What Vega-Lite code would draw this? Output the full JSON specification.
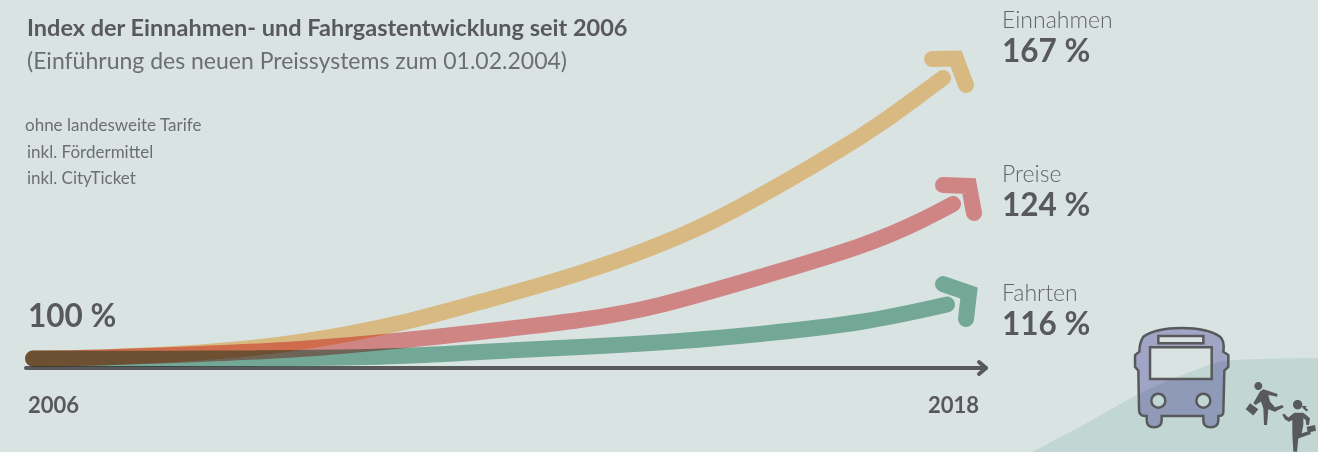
{
"$schema":"https://vega.github.io/schema/vega-lite/v6.json",
"width":1318,"height":452,"padding":0,
"autosize":"none",
"background":"#d9e3e2",
"config":{"view":{"stroke":null},"font":"Lato"},
"datasets":{
"hill":[{"year":2019.066,"index":77.68,"floor":77.68},{"year":2019.755,"index":84.4,"floor":77.68},{"year":2020.431,"index":91.36,"floor":77.68},{"year":2021.081,"index":96.64,"floor":77.68},{"year":2021.679,"index":99.76,"floor":77.68},{"year":2022.784,"index":100.24,"floor":77.68}],
"curves":[
{"series":"Einnahmen","year":2006.079,"index":100.12},{"series":"Einnahmen","year":2006.95,"index":100.36},{"series":"Einnahmen","year":2008.25,"index":101.56},{"series":"Einnahmen","year":2009.55,"index":104.08},{"series":"Einnahmen","year":2010.85,"index":108.64},{"series":"Einnahmen","year":2011.89,"index":113.68},{"series":"Einnahmen","year":2013.19,"index":120.64},{"series":"Einnahmen","year":2014.49,"index":129.52},{"series":"Einnahmen","year":2015.53,"index":139.12},{"series":"Einnahmen","year":2016.83,"index":153.28},{"series":"Einnahmen","year":2017.558,"index":162.64},{"series":"Einnahmen","year":2017.909,"index":167.44},
{"series":"Preise","year":2006.079,"index":100.12},{"series":"Preise","year":2006.95,"index":100.36},{"series":"Preise","year":2008.25,"index":101.2},{"series":"Preise","year":2009.55,"index":102.4},{"series":"Preise","year":2010.85,"index":104.44},{"series":"Preise","year":2011.89,"index":106.48},{"series":"Preise","year":2013.19,"index":109.36},{"series":"Preise","year":2014.23,"index":112.96},{"series":"Preise","year":2015.53,"index":119.68},{"series":"Preise","year":2016.83,"index":127.12},{"series":"Preise","year":2017.61,"index":133.12},{"series":"Preise","year":2018.039,"index":137.2},
{"series":"Fahrten","year":2006.079,"index":100.12},{"series":"Fahrten","year":2006.95,"index":100.07},{"series":"Fahrten","year":2008.25,"index":100.1},{"series":"Fahrten","year":2009.55,"index":100.24},{"series":"Fahrten","year":2010.85,"index":100.72},{"series":"Fahrten","year":2011.89,"index":101.68},{"series":"Fahrten","year":2013.19,"index":102.88},{"series":"Fahrten","year":2014.49,"index":104.32},{"series":"Fahrten","year":2015.53,"index":106},{"series":"Fahrten","year":2016.83,"index":108.88},{"series":"Fahrten","year":2017.961,"index":113.08}
],
"heads":[
{"series":"Einnahmen","order":1,"year":2017.766,"index":172},{"series":"Einnahmen","order":2,"year":2018.078,"index":172.12},{"series":"Einnahmen","order":3,"year":2018.208,"index":165.76},
{"series":"Preise","order":1,"year":2017.909,"index":141.76},{"series":"Preise","order":2,"year":2018.247,"index":141.52},{"series":"Preise","order":3,"year":2018.312,"index":135.04},
{"series":"Fahrten","order":1,"year":2017.909,"index":117.98},{"series":"Fahrten","order":2,"year":2018.247,"index":115.84},{"series":"Fahrten","order":3,"year":2018.208,"index":109.6}
],
"axisline":[
{"part":"shaft","order":1,"year":2005.988,"index":97.84},{"part":"shaft","order":2,"year":2018.468,"index":97.84},
{"part":"tip","order":1,"year":2018.377,"index":99.28},{"part":"tip","order":2,"year":2018.468,"index":97.84},{"part":"tip","order":3,"year":2018.377,"index":96.4}
]
},
"layer":[
{"data":{"name":"hill"},"mark":{"type":"area","color":"#c2d6d3","interpolate":"monotone"},
 "encoding":{"x":{"field":"year","type":"quantitative","scale":{"domain":[2005.65,2022.784],"nice":false,"zero":false},"axis":null},
 "y":{"field":"index","type":"quantitative","scale":{"domain":[77.68,186.16],"nice":false,"zero":false},"axis":null},"y2":{"field":"floor"}}},
{"data":{"name":"axisline"},"mark":{"type":"line","color":"#58595b","strokeWidth":4,"strokeCap":"round","strokeJoin":"round"},
 "encoding":{"x":{"field":"year","type":"quantitative"},"y":{"field":"index","type":"quantitative"},"detail":{"field":"part"},"order":{"field":"order"}}},
{"data":{"name":"curves"},"mark":{"type":"line","strokeWidth":16,"strokeCap":"round","interpolate":"natural","blend":"multiply"},
 "encoding":{"x":{"field":"year","type":"quantitative"},"y":{"field":"index","type":"quantitative"},
 "color":{"field":"series","type":"nominal","legend":null,"scale":{"domain":["Einnahmen","Preise","Fahrten"],"range":["#fed091","#f49594","#87bdaa"]}}}},
{"data":{"name":"heads"},"mark":{"type":"line","strokeWidth":16,"strokeCap":"round","strokeJoin":"miter","strokeMiterLimit":10,"blend":"multiply"},
 "encoding":{"x":{"field":"year","type":"quantitative"},"y":{"field":"index","type":"quantitative"},"order":{"field":"order"},
 "color":{"field":"series","type":"nominal","legend":null,"scale":{"domain":["Einnahmen","Preise","Fahrten"],"range":["#fed091","#f49594","#87bdaa"]}}}},
{"data":{"values":[{"year":2006.001,"index":177.52,"label":"Index der Einnahmen- und Fahrgastentwicklung seit 2006"}]},
 "mark":{"type":"text","align":"left","baseline":"alphabetic","font":"Lato","fontWeight":"bold","fontSize":23.5,"color":"#58595b"},
 "encoding":{"x":{"field":"year","type":"quantitative"},"y":{"field":"index","type":"quantitative"},"text":{"field":"label"}}},
{"data":{"values":[{"year":2006.001,"index":169.6,"label":"(Einführung des neuen Preissystems zum 01.02.2004)"}]},
 "mark":{"type":"text","align":"left","baseline":"alphabetic","font":"Lato","fontSize":23,"color":"#6d6e70"},
 "encoding":{"x":{"field":"year","type":"quantitative"},"y":{"field":"index","type":"quantitative"},"text":{"field":"label"}}},
{"data":{"values":[{"year":2005.975,"index":154.72,"label":"ohne landesweite Tarife"},{"year":2006.001,"index":148.24,"label":"inkl. Fördermittel"},{"year":2006.001,"index":142,"label":"inkl. CityTicket"}]},
 "mark":{"type":"text","align":"left","baseline":"alphabetic","font":"Lato","fontSize":17,"color":"#6d6e70"},
 "encoding":{"x":{"field":"year","type":"quantitative"},"y":{"field":"index","type":"quantitative"},"text":{"field":"label"}}},
{"data":{"values":[{"year":2018.676,"index":179.44,"label":"Einnahmen"},{"year":2018.676,"index":142.48,"label":"Preise"},{"year":2018.676,"index":113.99,"label":"Fahrten"}]},
 "mark":{"type":"text","align":"left","baseline":"alphabetic","font":"Lato","fontWeight":300,"fontSize":23,"color":"#636466"},
 "encoding":{"x":{"field":"year","type":"quantitative"},"y":{"field":"index","type":"quantitative"},"text":{"field":"label"}}},
{"data":{"values":[{"year":2018.676,"index":171.28,"label":"167 %"},{"year":2018.676,"index":134.32,"label":"124 %"},{"year":2018.676,"index":105.76,"label":"116 %"},{"year":2006.014,"index":107.68,"label":"100 %"}]},
 "mark":{"type":"text","align":"left","baseline":"alphabetic","font":"Lato","fontWeight":"bold","fontSize":31.5,"color":"#58595b"},
 "encoding":{"x":{"field":"year","type":"quantitative"},"y":{"field":"index","type":"quantitative"},"text":{"field":"label"}}},
{"data":{"values":[{"year":2006.014,"index":87.04,"label":"2006"},{"year":2017.714,"index":87.04,"label":"2018"}]},
 "mark":{"type":"text","align":"left","baseline":"alphabetic","font":"Lato","fontWeight":"bold","fontSize":22,"color":"#58595b"},
 "encoding":{"x":{"field":"year","type":"quantitative"},"y":{"field":"index","type":"quantitative"},"text":{"field":"label"}}},
{"data":{"values":[{"icon":"bus","year":2021.012,"index":95.75}]},
 "mark":{"type":"point","filled":true,"fill":"#bcb8df","opacity":1,"strokeWidth":0,"size":10000,"blend":"multiply",
 "shape":"M-0.767 -0.8C-0.433 -1.033 0.433 -1.033 0.767 -0.8C0.847 -0.733 0.847 -0.6 0.833 -0.5L0.933 -0.433L0.933 -0.2L0.853 -0.12L0.833 0.7Q0.833 0.787 0.733 0.787L0.733 0.867Q0.733 1.013 0.58 1.013Q0.433 1.013 0.433 0.867L0.433 0.787L-0.4 0.787L-0.4 0.867Q-0.4 1.013 -0.553 1.013Q-0.7 1.013 -0.7 0.867L-0.7 0.787L-0.733 0.787Q-0.853 0.787 -0.853 0.667L-0.867 -0.12L-0.933 -0.2L-0.933 -0.433L-0.847 -0.5Q-0.847 -0.667 -0.767 -0.8ZM-0.633 -0.587L-0.633 0.047L0.6 0.047L0.6 -0.587ZM-0.467 -0.813L-0.467 -0.667L0.433 -0.667L0.433 -0.813ZM-0.607 0.48A0.14 0.14 0 1 0 -0.327 0.48A0.14 0.14 0 1 0 -0.607 0.48ZM0.293 0.48A0.14 0.14 0 1 0 0.573 0.48A0.14 0.14 0 1 0 0.293 0.48Z"},
 "encoding":{"x":{"field":"year","type":"quantitative"},"y":{"field":"index","type":"quantitative"}}},
{"data":{"values":[{"icon":"bus","year":2021.012,"index":95.75}]},
 "mark":{"type":"point","filled":false,"stroke":"#58595b","opacity":1,"strokeWidth":2.5,"size":10000,
 "shape":"M-0.767 -0.8C-0.433 -1.033 0.433 -1.033 0.767 -0.8C0.847 -0.733 0.847 -0.6 0.833 -0.5L0.933 -0.433L0.933 -0.2L0.853 -0.12L0.833 0.7Q0.833 0.787 0.733 0.787L0.733 0.867Q0.733 1.013 0.58 1.013Q0.433 1.013 0.433 0.867L0.433 0.787L-0.4 0.787L-0.4 0.867Q-0.4 1.013 -0.553 1.013Q-0.7 1.013 -0.7 0.867L-0.7 0.787L-0.733 0.787Q-0.853 0.787 -0.853 0.667L-0.867 -0.12L-0.933 -0.2L-0.933 -0.433L-0.847 -0.5Q-0.847 -0.667 -0.767 -0.8ZM-0.633 -0.587L-0.633 0.047L0.6 0.047L0.6 -0.587ZM-0.467 -0.813L-0.467 -0.667L0.433 -0.667L0.433 -0.813ZM-0.607 0.48A0.14 0.14 0 1 0 -0.327 0.48A0.14 0.14 0 1 0 -0.607 0.48ZM0.293 0.48A0.14 0.14 0 1 0 0.573 0.48A0.14 0.14 0 1 0 0.293 0.48Z"},
 "encoding":{"x":{"field":"year","type":"quantitative"},"y":{"field":"index","type":"quantitative"}}},
{"data":{"values":[{"icon":"runner","year":2022.095,"index":89.37}]},
 "mark":{"type":"point","filled":true,"fill":"#58595b","opacity":1,"strokeWidth":0,"size":3600,
 "shape":"M-0.355 -0.578A0.133 0.133 0 1 0 -0.089 -0.578A0.133 0.133 0 1 0 -0.355 -0.578ZM-0.056 -0.467L0.422 -0.311L0.4 -0.222L0.111 -0.278L0.167 -0.056L0.333 0.133L0.578 0.056L0.622 0.133L0.333 0.278L0.111 0.2L0.067 0.722L-0.033 0.722L-0.056 0.167L-0.133 -0.056L-0.311 0.056L-0.389 0L-0.167 -0.389ZM-0.644 0.2L-0.5 0L-0.222 0.2L-0.389 0.411Z"},
 "encoding":{"x":{"field":"year","type":"quantitative"},"y":{"field":"index","type":"quantitative"}}},
{"data":{"values":[{"icon":"runner","year":2022.55,"index":83.75}]},
 "mark":{"type":"point","filled":true,"fill":"#58595b","opacity":1,"strokeWidth":0,"size":3600,
 "shape":"M-0.234 -0.733A0.156 0.156 0 1 0 0.078 -0.733A0.156 0.156 0 1 0 -0.234 -0.733ZM0.056 -0.689L0.222 -0.689L0.189 -0.622L0.278 -0.556L0.222 -0.511L0.111 -0.6ZM-0.589 -0.389L-0.533 -0.444L-0.389 -0.311L-0.189 -0.467L0.111 -0.467L0.333 -0.278L0.3 -0.056L0.211 -0.056L0.189 -0.222L0.111 -0.278L0.111 -0.056L0.056 0.222L0.333 0.133L0.367 0.244L-0.056 0.389L-0.1 0.833L-0.222 0.833L-0.256 0.278L-0.256 -0.222L-0.367 -0.167L-0.5 -0.244ZM0.222 0L0.5 -0.056L0.533 0.133L0.256 0.2Z"},
 "encoding":{"x":{"field":"year","type":"quantitative"},"y":{"field":"index","type":"quantitative"}}}
]
}
